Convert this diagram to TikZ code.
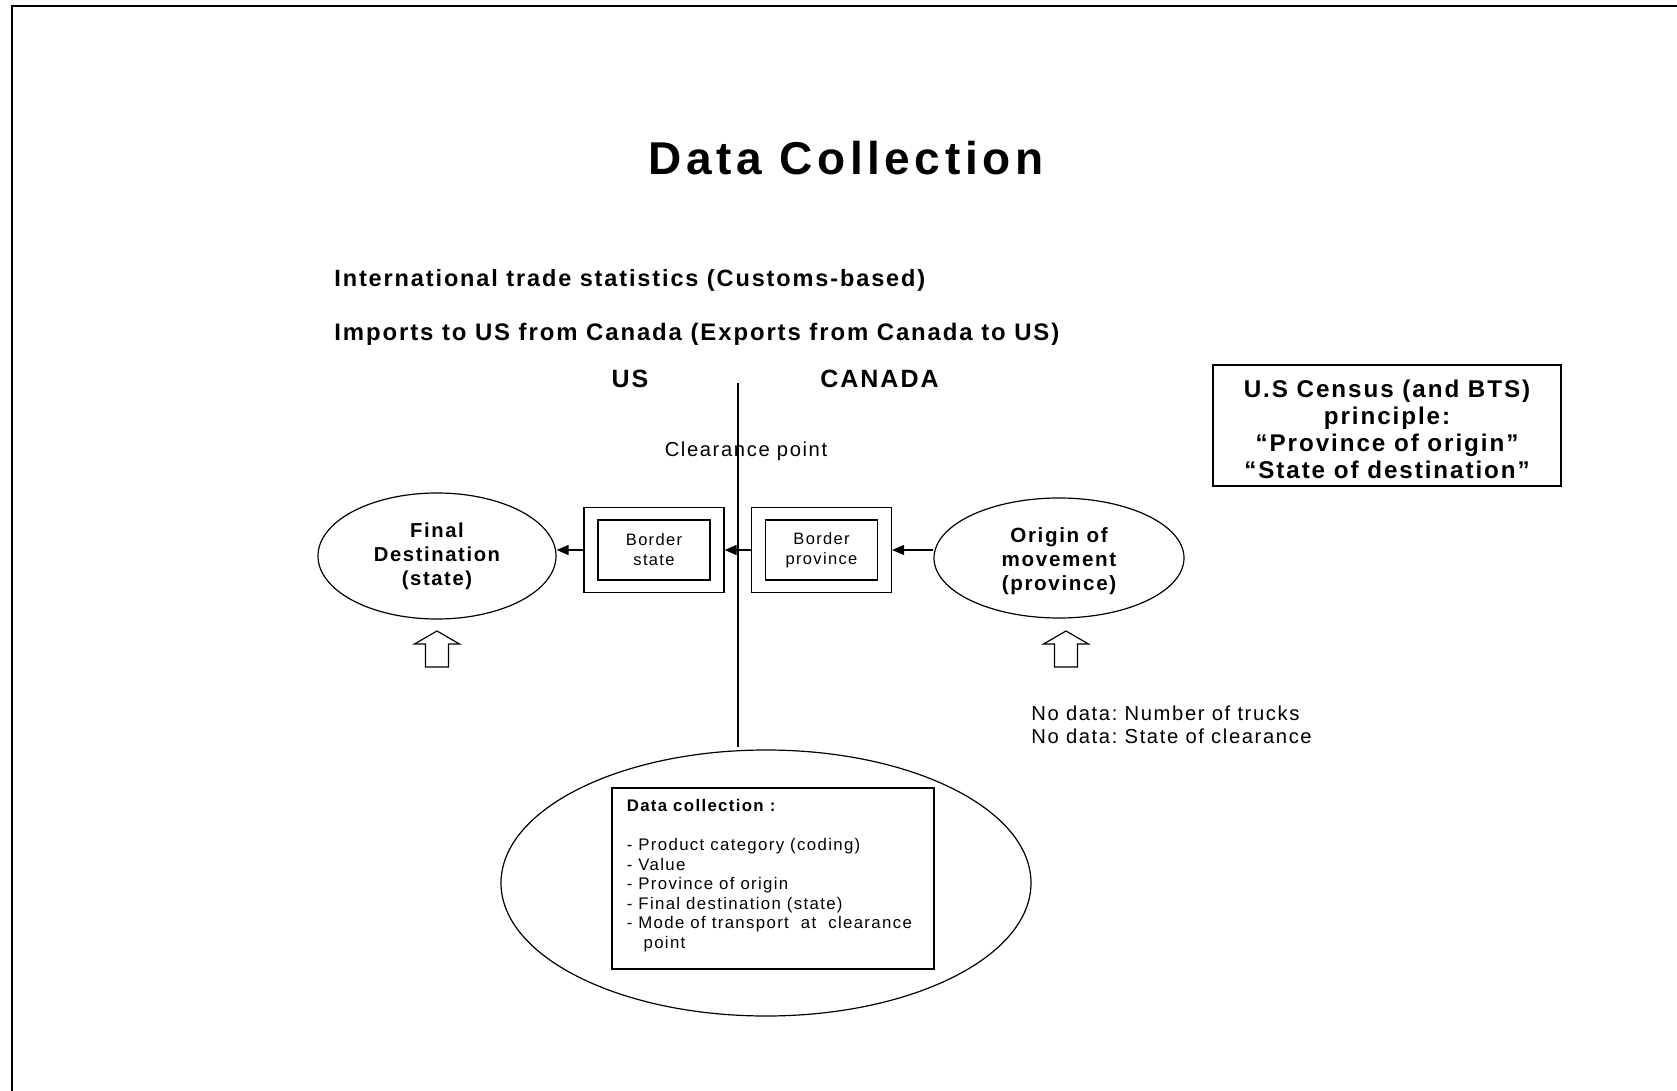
\documentclass[tikz,border=0pt]{standalone}
\usepackage{fontspec}
\setmainfont{Liberation Sans}[LetterSpace=8]
\newfontfamily\titlefont{Liberation Sans}[LetterSpace=10]
\usetikzlibrary{shapes.geometric,arrows.meta,calc}
\tikzset{
  oval/.style={draw,ellipse,line width=0.6pt,inner sep=0pt,align=center,font=\bfseries\fontsize{10.1}{11.9}\selectfont},
  outerbox/.style={draw,line width=0.6pt,minimum width=70pt,minimum height=42.5pt},
  innerbox/.style={draw,line width=0.6pt,minimum width=56pt,minimum height=30pt,align=center,inner sep=0pt,font=\fontsize{8.25}{10}\selectfont},
  flow/.style={-{Triangle[length=6pt,width=5pt]},line width=0.6pt},
  heading/.style={inner sep=0pt,font=\bfseries\fontsize{11.85}{13}\selectfont},
  plaintext/.style={inner sep=0pt,align=left}
}
\begin{document}
\frenchspacing
\begin{tikzpicture}[x=0.5pt,y=-0.5pt]
\useasboundingbox (0,0) rectangle (1677,1091);
% slide frame
\draw[line width=1pt] (12,1091) -- (12,6) -- (1677,6);

\node[anchor=base,inner sep=0pt,font=\titlefont\bfseries\fontsize{23}{28}\selectfont] (title) at (846,175) {Data Collection};
\node[heading,anchor=base west,font=\bfseries\fontsize{11.75}{13}\selectfont] (stats) at (334,287) {International trade statistics (Customs-based)};
\node[heading,anchor=base west,font=\bfseries\fontsize{11.95}{13}\selectfont] (imports) at (334,341) {Imports to US from Canada (Exports from Canada to US)};
\node[heading,anchor=base,font=\bfseries\fontsize{12.5}{14}\selectfont] (us) at (630,387) {US};
\node[heading,anchor=base,font=\bfseries\fontsize{12.5}{14}\selectfont] (canada) at (879.5,387) {CANADA};

% border line
\coordinate (linetop) at (738,383);
\coordinate (linebot) at (738,747);
\draw[line width=0.7pt] (linetop) -- (linebot);
\node[plaintext,anchor=base,font=\fontsize{10.1}{12}\selectfont] (clear) at (746,457) {Clearance point};

\node[oval,minimum width=119pt,minimum height=63pt] (dest) at (437,556) {Final\\Destination\\(state)};
\node[oval,minimum width=125pt,minimum height=60pt] (origin) at (1059,558) {};
\node[plaintext,align=center,font=\bfseries\fontsize{10.3}{12}\selectfont] (origintext) at ($(origin)+(0,3)$) {Origin of\\movement\\(province)};

\node[outerbox] (bstate) at (654,550) {};
\node[innerbox] (bstatein) at (bstate) {Border\\state};
\node[outerbox] (bprov) at (821.5,550) {};
\node[innerbox] (bprovin) at (bprov) {Border\\province};

\draw[flow] (origin.west |- bprov.east) -- (bprov.east);
\draw[flow] (bprov.west) -- (bstate.east);
\draw[flow] (bstate.west) -- (dest.east |- bstate.west);

% hollow up arrows
\foreach \ax in {437,1066}
  \draw[line width=0.6pt] (\ax-11.5,667) -- (\ax-11.5,644) -- (\ax-22.5,644) -- (\ax,631)
    -- (\ax+22.5,644) -- (\ax+11.5,644) -- (\ax+11.5,667) -- cycle;

\node[plaintext,anchor=west,font=\fontsize{10.1}{11.75}\selectfont] (nodata) at (1031,725) {No data: Number of trucks\\No data: State of clearance};

\node[draw,line width=0.6pt,minimum width=174pt,minimum height=60.5pt] (principle) at (1387,425.5) {};
\node[plaintext,align=center,font=\bfseries\fontsize{12.1}{13.5}\selectfont] (principletext) at ($(principle)+(0,4)$) {U.S Census (and BTS)\\principle:\\“Province of origin”\\“State of destination”};

% data collection
\node[draw,ellipse,line width=0.6pt,minimum width=265pt,minimum height=133pt] (collect) at (766,883) {};
\node[draw,line width=0.6pt,minimum width=161pt,minimum height=90.5pt] (listbox) at (773,878.5) {};
\node[plaintext,anchor=north west,font=\fontsize{8.4}{9.75}\selectfont] (items) at ($(listbox.north west)+(15,12)$)
  {\textbf{Data collection :}\\[9.75pt]
   - Product category (coding)\\
   - Value\\
   - Province of origin\\
   - Final destination (state)\\
   - Mode of transport~ at~ clearance\\
   \hspace*{1em}point};
\end{tikzpicture}
\end{document}
